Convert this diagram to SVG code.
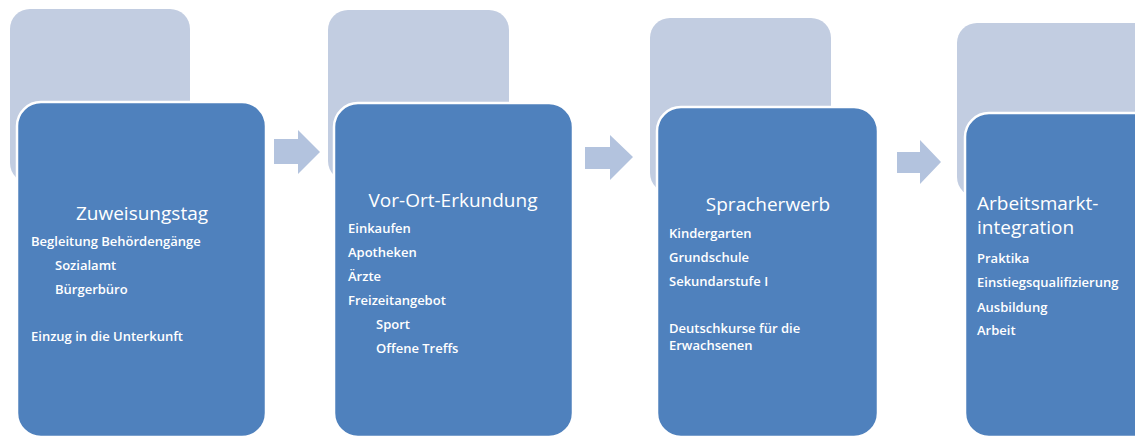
<svg xmlns="http://www.w3.org/2000/svg" width="1135" height="436" viewBox="0 0 1135 436">
  <style>
    .back { fill: #C2CDE1; }
    .front { fill: #4F81BD; stroke: #FFFFFF; stroke-width: 2.5; }
    .arrow { fill: #B3C3DE; }
    .title { font-family: "Open Sans", "Liberation Sans", sans-serif; font-size: 19px; fill: #FFFFFF; }
    .item { font-family: "Open Sans", "Liberation Sans", sans-serif; font-size: 13px; font-weight: 600; fill: #FFFFFF; }
  </style>
  <rect x="0" y="0" width="1135" height="436" fill="#FFFFFF"/>
  <g id="node1">
    <rect class="back" x="10" y="9" width="180" height="174" rx="20"/>
    <rect class="front" x="17" y="102" width="249" height="335" rx="24"/>
    <text class="title" x="142" y="220" text-anchor="middle">Zuweisungstag</text>
    <text class="item" x="31" y="246">Begleitung Behördengänge</text>
    <text class="item" x="55" y="270">Sozialamt</text>
    <text class="item" x="55" y="294">Bürgerbüro</text>
    <text class="item" x="31" y="341">Einzug in die Unterkunft</text>
  </g>
  <g id="node2">
    <rect class="back" x="328" y="10" width="181" height="171" rx="20"/>
    <rect class="front" x="334" y="103" width="239" height="334" rx="24"/>
    <text class="title" x="453" y="207" text-anchor="middle">Vor-Ort-Erkundung</text>
    <text class="item" x="348" y="233">Einkaufen</text>
    <text class="item" x="348" y="257">Apotheken</text>
    <text class="item" x="348" y="281">Ärzte</text>
    <text class="item" x="348" y="305">Freizeitangebot</text>
    <text class="item" x="376" y="329">Sport</text>
    <text class="item" x="376" y="353">Offene Treffs</text>
  </g>
  <g id="node3">
    <rect class="back" x="650" y="18" width="181" height="175" rx="20"/>
    <rect class="front" x="657" y="107" width="221" height="330" rx="24"/>
    <text class="title" x="768" y="211" text-anchor="middle">Spracherwerb</text>
    <text class="item" x="669" y="238">Kindergarten</text>
    <text class="item" x="669" y="262">Grundschule</text>
    <text class="item" x="669" y="286">Sekundarstufe I</text>
    <text class="item" x="669" y="333">Deutschkurse für die</text>
    <text class="item" x="669" y="350">Erwachsenen</text>
  </g>
  <g id="node4">
    <rect class="back" x="957" y="23" width="200" height="174" rx="20"/>
    <rect class="front" x="965" y="113" width="200" height="324" rx="24"/>
    <text class="title" x="977" y="210">Arbeitsmarkt-</text>
    <text class="title" x="977" y="234">integration</text>
    <text class="item" x="977" y="263">Praktika</text>
    <text class="item" x="977" y="287">Einstiegsqualifizierung</text>
    <text class="item" x="977" y="312">Ausbildung</text>
    <text class="item" x="977" y="335">Arbeit</text>
  </g>
  <g id="connectors">
    <polygon class="arrow" points="274,139 298,139 298,130 320,152 298,174 298,164 274,164"/>
    <polygon class="arrow" points="585,147 610,147 610,135 633,157 610,180 610,169 585,169"/>
    <polygon class="arrow" points="897,152 920,152 920,140 941,162 920,184 920,173 897,173"/>
  </g>
</svg>
